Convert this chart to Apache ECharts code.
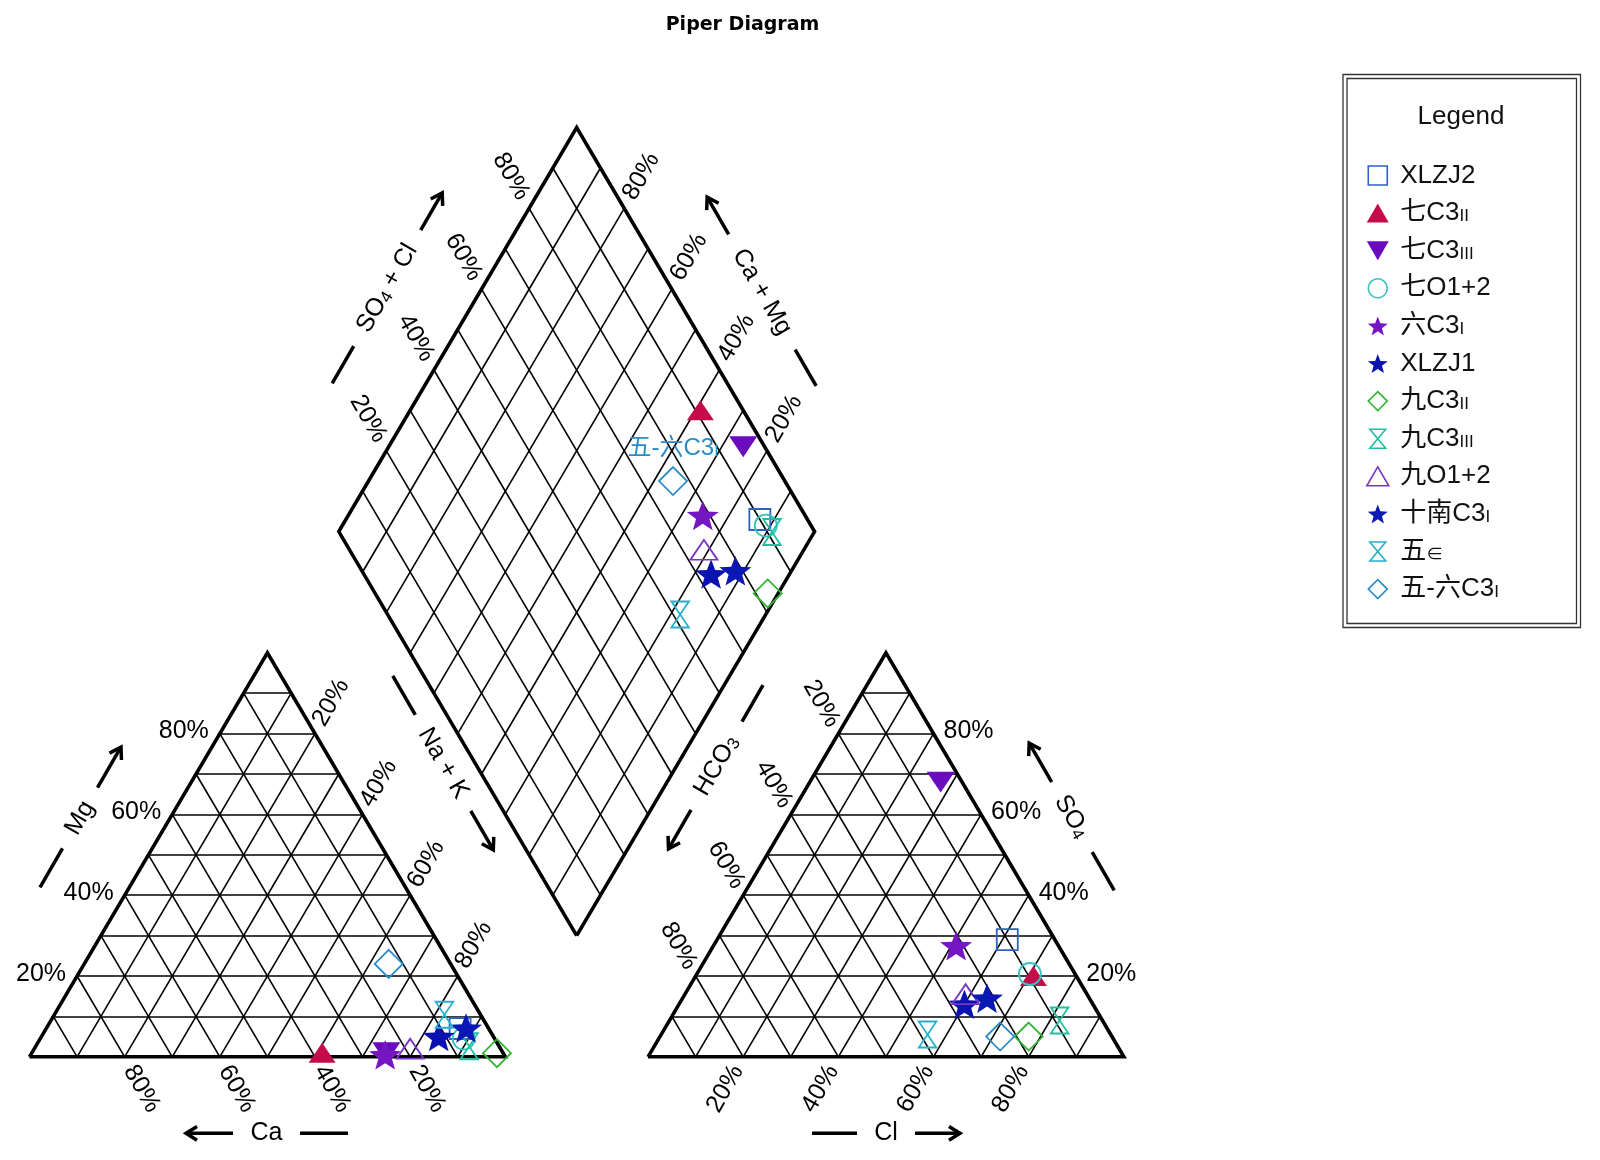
<!DOCTYPE html>
<html><head><meta charset="utf-8">
<script src="https://cdn.jsdelivr.net/npm/echarts@6/dist/echarts.min.js"></script>
<style>html,body{margin:0;padding:0;background:#fff}#c{width:1600px;height:1160px}</style>
</head><body><div id="c"></div>
<script>
// ---------------- data ----------------
const samples = ['XLZJ2','七C3II','七C3III','七O1+2','六C3I','XLZJ1','九C3II','九C3III','九O1+2','十南C3I','五∈','五-六C3I'];
const caPct   = [6, 38, 24.5, 6.5, 25, 11.5, 1.3, 6.3, 19, 4.7, 7.6, 13];
const mgPct   = [7, 1, 1, 4.5, 0.5, 5, 0.9, 2.6, 2, 7.1, 10.4, 23];
const naKPct  = [87, 61, 74.5, 89, 74.5, 83.5, 97.8, 91.1, 79, 88.2, 82, 64];
const clPct   = [61, 71, 27.5, 70, 51, 60, 77.5, 82, 59, 64, 56, 71.5];
const so4Pct  = [29, 20, 68, 20.5, 27.5, 13, 5, 9, 15.5, 14.5, 5.5, 5];
const hco3Pct = [10, 9, 4.5, 9.5, 21.5, 27, 17.5, 9, 25.5, 21.5, 38.5, 23.5];
const tickValues = [20, 40, 60, 80];
const tickLabels = ['20%', '40%', '60%', '80%'];
const labelledSample = '五-六C3I';

// ---------------- styles ----------------
const colors = ['#2F62C4','#C40C4A','#6A0CBE','#38C2C2','#7416C2','#0A12B0','#34B434','#22BEA0','#7A36C4','#0A18B4','#28B0CA','#2A8CC6'];
const kinds  = ['square','triangle','triangleDown','circle','star','star','diamond','hourglass','triangle','star','hourglass','diamond'];
const filled = [false,true,true,false,true,true,false,false,false,true,false,false];
function starPath(ir){let s='';for(let k=0;k<10;k++){const r=k%2?ir:1;const a=-Math.PI/2+k*Math.PI/5;s+=(k?'L':'M')+(r*Math.cos(a)*50+50).toFixed(2)+','+(r*Math.sin(a)*50+50).toFixed(2);}return 'path://'+s+'Z';}
const symPath = {
  square:'path://M0,0L10,0L10,10L0,10Z',
  triangle:'path://M5,0L10,8.66L0,8.66Z',
  triangleDown:'path://M0,0L10,0L5,8.66Z',
  circle:'circle',
  star:starPath(0.42),
  diamond:'path://M5,0L10,5L5,10L0,5Z',
  hourglass:'path://M0,0L10,0L0,12L10,12Z'
};
const symSize = {square:[21,21],triangle:[27,23],triangleDown:[28,24],circle:22,star:[32,31],diamond:[28,28],hourglass:[21,26]};
const FONT = '"Liberation Sans", Arial, "Noto Sans CJK SC", sans-serif';

// ---------------- geometry (data units) ----------------
const G = 30, H = Math.sqrt(3)/2;
const SX = 4.758, SY = 4.665, OX = 29.5, OY = 1056.8;
const XMIN = -6, XMAX = 236, YMIN = -5, YMAX = 210;
const gridBox = {left: OX + XMIN*SX, top: OY - YMAX*SY, width: (XMAX-XMIN)*SX, height: (YMAX-YMIN)*SY};
function catPt(ca, mg, nk){const t=ca+mg+nk; mg=mg/t*100; nk=nk/t*100; return [nk+mg/2, mg*H];}
function anPt(cl, so4, hc){const t=cl+so4+hc; cl=cl/t*100; so4=so4/t*100; return [100+G+cl+so4/2, so4*H];}
const B = [100+G/2, G*H];
function diaPt(a, c){return [B[0]+(a-c)/2, B[1]+(a+c)*H];}

const thin = [], thick = [];
for (let k=10; k<100; k+=10){
  thin.push([catPt(100-k,k,0), catPt(0,k,100-k)]);
  thin.push([catPt(100-k,0,k), catPt(0,100-k,k)]);
  thin.push([catPt(k,0,100-k), catPt(k,100-k,0)]);
  thin.push([anPt(0,k,100-k), anPt(100-k,k,0)]);
  thin.push([anPt(k,0,100-k), anPt(k,100-k,0)]);
  thin.push([anPt(100-k,0,k), anPt(0,100-k,k)]);
  thin.push([diaPt(k,0), diaPt(k,100)]);
  thin.push([diaPt(0,k), diaPt(100,k)]);
}
thick.push([catPt(100,0,0), catPt(0,0,100), catPt(0,100,0), catPt(100,0,0)]);
thick.push([anPt(0,0,100), anPt(100,0,0), anPt(0,100,0), anPt(0,0,100)]);
thick.push([diaPt(0,0), diaPt(100,0), diaPt(100,100), diaPt(0,100), diaPt(0,0)]);

// tick labels
const ticks = [];
tickValues.forEach((v,i)=>{
  const t = tickLabels[i];
  ticks.push({p:catPt(100-v,v,0), text:t, rot:0, dx:-11, dy:-2, align:'right'});
  ticks.push({p:catPt(v,0,100-v), text:t, rot:-60, dx:17, dy:32, align:'center'});
  ticks.push({p:catPt(0,100-v,v), text:t, rot:60, dx:16, dy:-31, align:'center'});
  ticks.push({p:anPt(0,100-v,v), text:t, rot:-60, dx:-17, dy:-30, align:'center'});
  ticks.push({p:anPt(100-v,v,0), text:t, rot:0, dx:10, dy:-2, align:'left'});
  ticks.push({p:anPt(v,0,100-v), text:t, rot:60, dx:-18, dy:32, align:'center'});
  ticks.push({p:diaPt(v,100), text:t, rot:-60, dx:-18, dy:-32, align:'center'});
  ticks.push({p:diaPt(100,v), text:t, rot:60, dx:17, dy:-32, align:'center'});
});

const richSub = {s:{fontSize:17, lineHeight:17, fontFamily:FONT, verticalAlign:'bottom', padding:[0,0,1,0]}};
function fmtName(n){return n.replace(/C3(I+)$/, 'C3{s|$1}').replace('∈','{s|∈}');}

// scatter series
const scatterSeries = samples.map((name,i)=>{
  const col = colors[i], k = kinds[i];
  const pts = [
    catPt(caPct[i], mgPct[i], naKPct[i]),
    anPt(clPct[i], so4Pct[i], hco3Pct[i]),
    diaPt(clPct[i]+so4Pct[i], caPct[i]+mgPct[i])
  ];
  const data = pts.map((p,j)=>{
    const d = {value:p};
    if (j===2 && name===labelledSample){
      d.label = {show:true, position:'top', distance:6, formatter:fmtName(name), color:col, fontSize:24, fontFamily:FONT,
        rich:{s:{fontSize:16, lineHeight:16, fontFamily:FONT, color:col, verticalAlign:'bottom', padding:[0,0,1,0]}}};
    }
    return d;
  });
  return {
    type:'scatter', name, z:5, clip:false, silent:true,
    symbol:symPath[k], symbolSize:symSize[k], symbolKeepAspect:true,
    itemStyle: filled[i] ? {color:col, opacity:1} : {color:'rgba(0,0,0,0)', borderColor:col, borderWidth:1.8, opacity:1},
    label:{show:false},
    emphasis:{disabled:true},
    data
  };
});

// annotations (axis titles with dash + arrow)
const annots = [
  {t:'Mg', c:[80,818], deg:60, dash:[-80,-35], arr:[35,82]},
  {t:'Ca', c:[266.5,1133.3], deg:0, dash:[33.5,81.5], arr:[-33.5,-80.5]},
  {t:'Na + K', c:[443.3,763.3], deg:-60, dash:[-101,-56], arr:[55,100]},
  {t:'HCO{s|3}', c:[716.5,765.7], deg:60, dash:[51,93], arr:[-51,-96]},
  {t:'SO{s|4}', c:[1071.7,816.7], deg:-60, dash:[41,85], arr:[-40,-85]},
  {t:'Cl', c:[886,1133.3], deg:0, dash:[-74,-29], arr:[29,74]},
  {t:'SO{s|4} + Cl', c:[387.2,288.2], deg:60, dash:[-110,-67], arr:[67,110]},
  {t:'Ca + Mg', c:[761.9,292], deg:-60, dash:[66.5,108.5], arr:[-66.5,-109.5]}
];
const graphics = [];
annots.forEach(a=>{
  const th = a.deg*Math.PI/180, rx = Math.cos(th), ry = -Math.sin(th);
  const P = t => [a.c[0]+rx*t, a.c[1]+ry*t];
  graphics.push({type:'text', x:a.c[0], y:a.c[1], rotation:th,
    style:{text:a.t, fontSize:25, fontFamily:FONT, lineHeight:26, fill:'#000', align:'center', verticalAlign:'middle',
      rich:{s:{fontSize:17, lineHeight:17, fontFamily:FONT, fill:'#000', verticalAlign:'bottom', padding:[0,0,0,0]}}}});
  const d0 = P(a.dash[0]), d1 = P(a.dash[1]);
  graphics.push({type:'line', shape:{x1:d0[0],y1:d0[1],x2:d1[0],y2:d1[1]}, style:{stroke:'#000', lineWidth:3.5}});
  const s0 = P(a.arr[0]), tip = P(a.arr[1]);
  graphics.push({type:'line', shape:{x1:s0[0],y1:s0[1],x2:tip[0],y2:tip[1]}, style:{stroke:'#000', lineWidth:3.5}});
  const dir = Math.sign(a.arr[1]-a.arr[0]);
  const bx = -rx*dir, by = -ry*dir, L = 13, ang = 32*Math.PI/180;
  const arm = s => [tip[0] + L*(bx*Math.cos(s*ang) - by*Math.sin(s*ang)), tip[1] + L*(bx*Math.sin(s*ang) + by*Math.cos(s*ang))];
  graphics.push({type:'polyline', shape:{points:[arm(1), tip, arm(-1)]}, style:{stroke:'#000', lineWidth:3.5, fill:null}});
});
graphics.push({type:'text', x:742.5, y:25, style:{text:'Piper Diagram', font:'bold 19px "DejaVu Sans", sans-serif', fill:'#000', align:'center', verticalAlign:'middle'}});
graphics.push({type:'rect', shape:{x:1343, y:74.5, width:237.5, height:553}, style:{fill:null, stroke:'#333', lineWidth:1.3}});
graphics.push({type:'rect', shape:{x:1347, y:78.5, width:229.5, height:545}, style:{fill:null, stroke:'#333', lineWidth:1.3}});
graphics.push({type:'text', x:1461, y:117, style:{text:'Legend', font:'26px '+FONT, fill:'#111', align:'center', verticalAlign:'middle'}});

const option = {
  animation:false,
  backgroundColor:'#fff',
  grid:{left:gridBox.left, top:gridBox.top, width:gridBox.width, height:gridBox.height, containLabel:false},
  xAxis:{type:'value', min:XMIN, max:XMAX, show:false},
  yAxis:{type:'value', min:YMIN, max:YMAX, show:false},
  legend:{
    orient:'vertical', left:1366, top:162.5, padding:0, itemWidth:35, itemHeight:19, itemGap:11.6,
    selectedMode:false,
    textStyle:{fontSize:26, lineHeight:26, fontFamily:FONT, color:'#111', rich:richSub},
    formatter:fmtName,
    data: samples.map((n,i)=>({name:n, icon:symPath[kinds[i]],
      itemStyle: filled[i] ? {color:colors[i], borderWidth:0, opacity:1} : {color:'rgba(0,0,0,0)', borderColor:colors[i], borderWidth:1.6, opacity:1}}))
  },
  graphic: graphics,
  series: [
    {type:'lines', coordinateSystem:'cartesian2d', polyline:false, silent:true, z:2,
     lineStyle:{color:'#000', width:1.6, opacity:1}, data: thin.map(s=>({coords:s}))},
    {type:'lines', coordinateSystem:'cartesian2d', polyline:true, silent:true, z:3,
     lineStyle:{color:'#000', width:3.6, opacity:1, join:'miter'}, data: thick.map(s=>({coords:s}))},
    {type:'custom', coordinateSystem:'cartesian2d', silent:true, z:4,
     data: ticks.map(t=>t.p),
     renderItem:(params, api)=>{
       const t = ticks[params.dataIndex];
       const p = api.coord([api.value(0), api.value(1)]);
       return {type:'text', x:p[0]+t.dx, y:p[1]+t.dy, rotation:t.rot*Math.PI/180,
         style:{text:t.text, font:'25px '+FONT, fill:'#000', align:t.align, verticalAlign:'middle'}};
     }},
    ...scatterSeries
  ]
};
const chart = echarts.init(document.getElementById('c'), null, {renderer:'canvas', width:1600, height:1160});
chart.setOption(option);
</script>
</body></html>
